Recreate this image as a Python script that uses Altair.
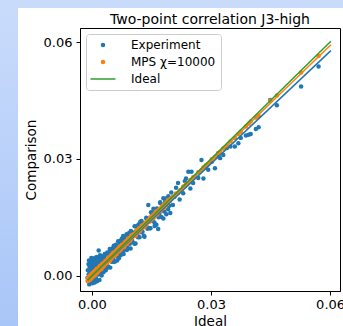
import altair as alt
import pandas as pd

# ---- data ----
ideal = [
    -0.00110, -0.00102, -0.00095, -0.00088, -0.00080, -0.00074, -0.00066, -0.00060, -0.00052, -0.00045,
    -0.00040, -0.00033, -0.00027, -0.00020, -0.00014, -0.00008, -0.00003, 0.00002, 0.00008, 0.00014,
    0.00019, 0.00025, 0.00031, 0.00036, 0.00042, 0.00048, 0.00055, 0.00061, 0.00067, 0.00072,
    0.00079, 0.00085, 0.00091, 0.00098, 0.00104, 0.00110, 0.00117, 0.00123, 0.00130, 0.00136,
    0.00143, 0.00150, 0.00157, 0.00163, 0.00170, 0.00177, 0.00184, 0.00191, 0.00198, 0.00205,
    0.00212, 0.00220, 0.00228, 0.00236, 0.00244, 0.00252, 0.00261, 0.00270, 0.00280, 0.00290,
    0.00300, 0.00312, 0.00325, 0.00337, 0.00350, 0.00362, 0.00375, 0.00387, 0.00400, 0.00412,
    0.00425, 0.00437, 0.00450, 0.00462, 0.00475, 0.00487, 0.00500, 0.00512, 0.00525, 0.00537,
    0.00550, 0.00562, 0.00575, 0.00587, 0.00600, 0.00612, 0.00625, 0.00637, 0.00650, 0.00662,
    0.00675, 0.00687, 0.00700, 0.00712, 0.00725, 0.00737, 0.00750, 0.00762, 0.00775, 0.00787,
    0.00800, 0.00812, 0.00825, 0.00837, 0.00850, 0.00862, 0.00875, 0.00887, 0.00900, 0.00912,
    0.00925, 0.00937, 0.00950, 0.00962, 0.00975, 0.00987,
    0.01000, 0.01025, 0.01050, 0.01075, 0.01100, 0.01125, 0.01150, 0.01175, 0.01200, 0.01225,
    0.01250, 0.01275, 0.01300, 0.01325, 0.01350, 0.01375, 0.01400, 0.01420, 0.01450, 0.01475,
    0.01500, 0.01525, 0.01550, 0.01575, 0.01600, 0.01625, 0.01650, 0.01670, 0.01700, 0.01725,
    0.01750, 0.01775, 0.01800, 0.01825, 0.01850, 0.01875, 0.01900, 0.01925, 0.01950, 0.01975,
    0.02000, 0.02040, 0.02080, 0.02120, 0.02170, 0.02210, 0.02250, 0.02300, 0.02340, 0.02370,
    0.02430, 0.02480, 0.02510, 0.02550, 0.02600, 0.02680, 0.02760, 0.02810, 0.02870, 0.02930,
    0.03020, 0.03100, 0.03180, 0.03230, 0.03310, 0.03400, 0.03490, 0.03600, 0.03690, 0.03750,
    0.03880, 0.03950, 0.04000,
    0.04130, 0.04200, 0.04490, 0.04660, 0.05270, 0.05710,
    # second batch inside the dense band
    0.00215, 0.00245, 0.00275, 0.00305, 0.00330, 0.00355, 0.00380, 0.00405, 0.00430, 0.00455,
    0.00480, 0.00505, 0.00530, 0.00555, 0.00580, 0.00605, 0.00630, 0.00655, 0.00680, 0.00705,
    0.00730, 0.00755, 0.00780, 0.00805, 0.00830, 0.00855, 0.00880, 0.00905, 0.00930, 0.00955,
    0.00980, 0.01010, 0.01040, 0.01070, 0.01100, 0.01130, 0.01160, 0.01190, 0.01220, 0.01250,
    0.01280, 0.01310, 0.01340, 0.01370, 0.01400, 0.01430, 0.01460, 0.01490, 0.01520, 0.01550,
    0.01580, 0.01610, 0.01640, 0.01680, 0.01720, 0.01760, 0.01800, 0.01840, 0.01880, 0.01920,
    0.01960,
]

experiment = [
    -0.0005, 0.0014, -0.0014, 0.0030, 0.0004, 0.0039, -0.0022, 0.0023, -0.0004, 0.0036,
    0.0014, -0.0013, 0.0030, 0.0005, 0.0046, 0.0021, -0.0003, 0.0036, 0.0011, -0.0019,
    0.0029, 0.0044, 0.0007, -0.0010, 0.0034, 0.0020, -0.0002, 0.0045, 0.0026, -0.0017,
    0.0017, 0.0042, 0.0007, 0.0034, -0.0007, 0.0024, 0.0048, 0.0014, -0.0014, 0.0034,
    0.0020, 0.0003, 0.0046, 0.0032, 0.0065, 0.0013, 0.0042, -0.0011, 0.0028, 0.0053,
    0.0005, 0.0039, 0.0022, 0.0051, 0.0001, 0.0035, 0.0017, 0.0048, 0.0032, 0.0009,
    0.0043, 0.0021, 0.0056, 0.0035, 0.0014, 0.0054, 0.0031, 0.0060, 0.0046, 0.0024,
    0.0053, 0.0040, 0.0069, 0.0021, 0.0052, 0.0064, 0.0036, 0.0070, 0.0050, 0.0044,
    0.0077, 0.0064, 0.0036, 0.0060, 0.0078, 0.0053, 0.0075, 0.0039, 0.0069, 0.0089,
    0.0055, 0.0079, 0.0064, 0.0090, 0.0053, 0.0080, 0.0090, 0.0064, 0.0076, 0.0102,
    0.0056, 0.0089, 0.0075, 0.0096, 0.0069, 0.0088, 0.0107, 0.0078, 0.0100, 0.0070,
    0.0092, 0.0110, 0.0090, 0.0104, 0.0070, 0.0103,
    0.0113, 0.0087, 0.0105, 0.0127, 0.0083, 0.0117, 0.0104, 0.0132, 0.0099, 0.0120,
    0.0141, 0.0113, 0.0135, 0.0100, 0.0128, 0.0147, 0.0121, 0.0182, 0.0145, 0.0122,
    0.0162, 0.0141, 0.0172, 0.0137, 0.0162, 0.0131, 0.0170, 0.0120, 0.0160, 0.0186,
    0.0151, 0.0175, 0.0199, 0.0165, 0.0192, 0.0158, 0.0183, 0.0204, 0.0180, 0.0161,
    0.0214, 0.0182, 0.0203, 0.0226, 0.0238, 0.0196, 0.0219, 0.0212, 0.0243, 0.0250,
    0.0267, 0.0224, 0.0267, 0.0238, 0.0254, 0.0251, 0.0297, 0.0250, 0.0278, 0.0272,
    0.0293, 0.0276, 0.0309, 0.0302, 0.0310, 0.0328, 0.0332, 0.0332, 0.0340, 0.0354,
    0.0360, 0.0362, 0.0364,
    0.0377, 0.0381, 0.0451, 0.0438, 0.0486, 0.0537,
    # second batch inside the dense band
    0.0015, 0.0039, 0.0014, 0.0035, 0.0052, 0.0025, 0.0048, 0.0021, 0.0044, 0.0062,
    0.0038, 0.0058, 0.0036, 0.0067, 0.0053, 0.0080, 0.0050, 0.0068, 0.0045, 0.0078,
    0.0066, 0.0096, 0.0061, 0.0084, 0.0074, 0.0101, 0.0066, 0.0089, 0.0102, 0.0082,
    0.0115, 0.0092, 0.0110, 0.0082, 0.0112, 0.0127, 0.0099, 0.0117, 0.0139, 0.0112,
    0.0135, 0.0103, 0.0129, 0.0149, 0.0124, 0.0145, 0.0122, 0.0163, 0.0142, 0.0160,
    0.0128, 0.0159, 0.0173, 0.0150, 0.0189, 0.0167, 0.0147, 0.0186, 0.0199, 0.0171,
    0.0193,
]

mps = [
    -0.0013, -0.0007, -0.0013, -0.0008, -0.0011, -0.0003, -0.0008, -0.0004, -0.0010, 0.0001,
    -0.0006, 0.0000, -0.0007, -0.0001, -0.0007, 0.0003, -0.0001, 0.0006, -0.0002, 0.0003,
    -0.0003, 0.0002, 0.0008, 0.0002, 0.0007, 0.0001, 0.0011, 0.0005, 0.0009, 0.0001,
    0.0012, 0.0005, 0.0010, 0.0015, 0.0006, 0.0013, 0.0010, 0.0018, 0.0008, 0.0013,
    0.0017, 0.0014, 0.0019, 0.0011, 0.0018, 0.0022, 0.0015, 0.0021, 0.0018, 0.0026,
    0.0017, 0.0025, 0.0022, 0.0017, 0.0028, 0.0024, 0.0031, 0.0024, 0.0030, 0.0024,
    0.0033, 0.0027, 0.0033, 0.0038, 0.0032, 0.0038, 0.0032, 0.0042, 0.0038, 0.0047,
    0.0039, 0.0044, 0.0038, 0.0049, 0.0045, 0.0053, 0.0045, 0.0052, 0.0052, 0.0059,
    0.0051, 0.0056, 0.0052, 0.0062, 0.0058, 0.0063, 0.0056, 0.0065, 0.0062, 0.0070,
    0.0063, 0.0068, 0.0075, 0.0067, 0.0073, 0.0068, 0.0077, 0.0074, 0.0080, 0.0076,
    0.0080, 0.0074, 0.0086, 0.0079, 0.0086, 0.0085, 0.0090, 0.0083, 0.0090, 0.0096,
    0.0089, 0.0095, 0.0089, 0.0097, 0.0095, 0.0102,
    0.0096, 0.0105, 0.0102, 0.0108, 0.0103, 0.0117, 0.0111, 0.0119, 0.0114, 0.0122,
    0.0128, 0.0123, 0.0130, 0.0125, 0.0137, 0.0134, 0.0138, 0.0143, 0.0139, 0.0150,
    0.0146, 0.0152, 0.0148, 0.0158, 0.0157, 0.0166, 0.0160, 0.0165, 0.0171, 0.0166,
    0.0174, 0.0173, 0.0182, 0.0175, 0.0183, 0.0188, 0.0184, 0.0194, 0.0191, 0.0197,
    0.0198, 0.0203, 0.0204, 0.0211, 0.0212, 0.0219, 0.0220, 0.0229, 0.0230, 0.0235,
    0.0238, 0.0246, 0.0245, 0.0253, 0.0254, 0.0266, 0.0271, 0.0278, 0.0284, 0.0287,
    0.0299, 0.0304, 0.0315, 0.0318, 0.0327, 0.0334, 0.0345, 0.0354, 0.0364, 0.0370,
    0.0383, 0.0390, 0.0396,
    0.0406, 0.0411, 0.0449, 0.0463, 0.0522, 0.0564,
    # second batch inside the dense band
    0.0022, 0.0022, 0.0030, 0.0027, 0.0035, 0.0035, 0.0033, 0.0044, 0.0041, 0.0048,
    0.0044, 0.0055, 0.0050, 0.0057, 0.0052, 0.0061, 0.0066, 0.0063, 0.0070, 0.0065,
    0.0072, 0.0079, 0.0074, 0.0081, 0.0081, 0.0088, 0.0082, 0.0091, 0.0090, 0.0097,
    0.0094, 0.0105, 0.0101, 0.0107, 0.0104, 0.0114, 0.0114, 0.0122, 0.0117, 0.0124,
    0.0130, 0.0127, 0.0135, 0.0131, 0.0140, 0.0140, 0.0149, 0.0144, 0.0151, 0.0157,
    0.0154, 0.0162, 0.0157, 0.0168, 0.0169, 0.0177, 0.0174, 0.0183, 0.0183, 0.0194,
    0.0192,
]

# fitted straight lines (end points)
fit_x = [-0.0011, 0.0602]
fit_experiment = [-0.0011, 0.0578]
fit_mps = [-0.0011, 0.0593]
fit_ideal = [-0.0011, 0.0602]

series = ["Experiment", "MPS χ=10000", "Ideal"]
colors = ["#1f77b4", "#ff7f0e", "#2ca02c"]
ticks = [0.0, 0.03, 0.06]

assert len(ideal) == len(experiment) == len(mps)

exp_df = pd.DataFrame({"ideal": ideal, "value": experiment, "series": series[0]})
mps_df = pd.DataFrame({"ideal": ideal, "value": mps, "series": series[1]})
line_df = pd.DataFrame({
    "ideal": fit_x * 3,
    "value": fit_experiment + fit_mps + fit_ideal,
    "series": [series[0]] * 2 + [series[1]] * 2 + [series[2]] * 2,
})

W, H = 260, 263
PAD = {"left": 80, "top": 28, "right": 3, "bottom": 35}

color_scale = alt.Scale(domain=series, range=colors)

is_line = "datum.value === 'Ideal'"
legend = alt.Legend(
    title=None,
    orient="none",
    legendX=6,
    legendY=6,
    fillColor="white",
    strokeColor="#cccccc",
    cornerRadius=3,
    padding=5,
    labelFont="DejaVu Sans",
    labelFontSize=12,
    labelColor="black",
    symbolType=alt.ExprRef(f"{is_line} ? 'stroke' : 'circle'"),
    symbolSize=alt.ExprRef(f"{is_line} ? 625 : 20"),
    symbolStrokeWidth=alt.ExprRef(f"{is_line} ? 1.5 : 0"),
    symbolStrokeColor=alt.ExprRef("scale('color', datum.value)"),
    symbolFillColor=alt.ExprRef("scale('color', datum.value)"),
    symbolOpacity=1,
    symbolOffset=6,
    rowPadding=5,
    labelOffset=22,
)

x_enc = alt.X(
    "ideal:Q",
    scale=alt.Scale(domain=[-0.003, 0.0625], nice=False, zero=False),
    axis=alt.Axis(values=ticks, format=".2f", title="Ideal", labelFlush=False),
)
y_enc = alt.Y(
    "value:Q",
    scale=alt.Scale(domain=[-0.0039, 0.0636], nice=False, zero=False),
    axis=alt.Axis(values=ticks, format=".2f", title="Comparison"),
)
c_enc = alt.Color("series:N", scale=color_scale, legend=legend)

bg = pd.DataFrame({"k": [0]})
top_strip = alt.Chart(bg).mark_rect(color="#c9dbfb").encode(
    x=alt.value(-PAD["left"]), x2=alt.value(W + PAD["right"]),
    y=alt.value(-PAD["top"]), y2=alt.value(-20),
)
left_strip = alt.Chart(bg).mark_rect(
    fill=alt.Gradient(
        gradient="linear",
        stops=[alt.GradientStop(color="#c9dbfb", offset=0), alt.GradientStop(color="#a9c6f8", offset=1)],
        x1=0, y1=0, x2=0, y2=1,
    )
).encode(
    x=alt.value(-PAD["left"]), x2=alt.value(-62),
    y=alt.value(-20), y2=alt.value(H + PAD["bottom"]),
)

exp_pts = alt.Chart(exp_df).mark_circle(size=20, opacity=1).encode(x=x_enc, y=y_enc, color=c_enc)
mps_pts = alt.Chart(mps_df).mark_circle(size=20, opacity=1).encode(x=x_enc, y=y_enc, color=c_enc)
lines = alt.Chart(line_df).mark_line(strokeWidth=1.5).encode(x=x_enc, y=y_enc, color=c_enc, detail="series:N")

chart = (
    alt.layer(top_strip, left_strip, exp_pts, mps_pts, lines)
    .properties(
        width=W,
        height=H,
        padding=PAD,
        autosize=alt.AutoSizeParams(type="none"),
        background="white",
        title=alt.TitleParams(
            "Two-point correlation J3-high",
            font="DejaVu Sans",
            fontSize=14,
            fontWeight="normal",
            color="black",
            anchor="middle",
            frame="group",
            offset=0,
            dy=38,
            baseline="alphabetic",
        ),
    )
    .configure_view(stroke="black", strokeWidth=1)
    .configure_axis(
        domainColor="black",
        tickColor="black",
        labelColor="black",
        titleColor="black",
        labelFont="DejaVu Sans",
        titleFont="DejaVu Sans",
        labelFontSize=13,
        titleFontSize=13.5,
        titleFontWeight="normal",
        tickSize=4,
        grid=False,
        domainWidth=1,
        tickWidth=1,
    )
    .configure_axisX(labelPadding=3, titlePadding=3)
    .configure_axisY(labelPadding=4, titlePadding=5)
)

chart.save("out.html", embed_options={"renderer": "svg", "actions": False})
